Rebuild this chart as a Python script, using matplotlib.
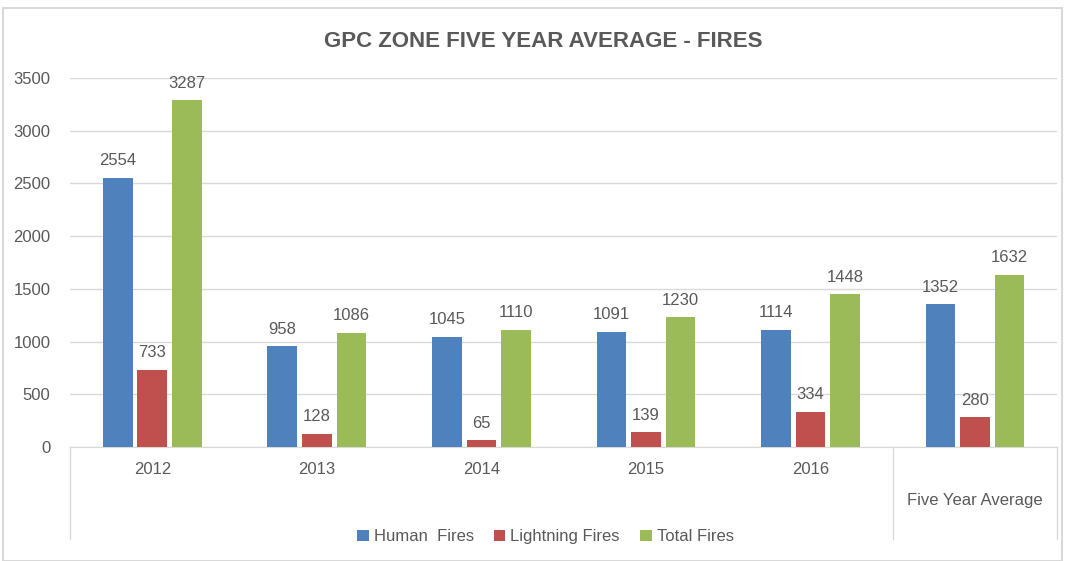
import matplotlib
matplotlib.use("Agg")
import matplotlib.pyplot as plt
import matplotlib.transforms as mtransforms
import numpy as np

plt.rcParams['font.family'] = ['Liberation Sans', 'DejaVu Sans']

categorias = ["2012", "2013", "2014", "2015", "2016", "Five Year Average"]
human = [2554, 958, 1045, 1091, 1114, 1352]
lightning = [733, 128, 65, 139, 334, 280]
total = [3287, 1086, 1110, 1230, 1448, 1632]
series = [("Human  Fires", human, "#4F81BD"),
          ("Lightning Fires", lightning, "#C0504D"),
          ("Total Fires", total, "#9BBB59")]

gris = "#595959"
fig = plt.figure(figsize=(10.69, 5.61), dpi=100)
ax = fig.add_axes([0.0655, 0.2032, 0.9235, 0.6578])

x = np.arange(len(categorias))
ancho = 0.18
offsets = [-0.21, 0.0, 0.21]
for (nombre, vals, color), off in zip(series, offsets):
    bars = ax.bar(x + off, vals, ancho, color=color, label=nombre, zorder=3)
    for b, v in zip(bars, vals):
        ax.text(b.get_x() + b.get_width() / 2, v + 90, str(v), ha="center", va="bottom",
                fontsize=12, color=gris, zorder=4)

ax.set_xlim(-0.5, len(categorias) - 0.5)
ax.set_ylim(0, 3500)
ax.set_yticks(range(0, 3501, 500))
ax.tick_params(axis="y", length=0, labelsize=12, labelcolor=gris, pad=14)
ax.set_xticks([])
ax.grid(axis="y", color="#D9D9D9", linewidth=1, zorder=0)
for s in ["top", "right", "left"]:
    ax.spines[s].set_visible(False)
ax.spines["bottom"].set_color("#D9D9D9")

# etiquetas de categoria en dos niveles
trans = mtransforms.blended_transform_factory(ax.transData, ax.transAxes)
for i, c in enumerate(categorias[:5]):
    ax.text(i, -0.06, c, transform=trans, ha="center", va="center", fontsize=12, color=gris)
ax.text(5, -0.144, categorias[5], transform=trans, ha="center", va="center", fontsize=12, color=gris)
for xs in [-0.5, 4.5, 5.5]:
    ax.plot([xs, xs], [0, -0.25], transform=trans, color="#D9D9D9", lw=1, clip_on=False)

fig.suptitle("GPC ZONE FIVE YEAR AVERAGE - FIRES", x=0.508, y=0.945, fontsize=16,
             fontweight="bold", color=gris)
fig.legend(loc="center", bbox_to_anchor=(0.51, 0.043), ncol=3, frameon=False, fontsize=12,
           labelcolor=gris, handlelength=0.7, handleheight=0.7, handletextpad=0.3, columnspacing=1.2)

fig.patches.append(plt.Rectangle((0.003, 0.0), 0.99, 0.985, transform=fig.transFigure,
                                 fill=False, edgecolor="#D9D9D9", lw=1.5))
fig.savefig("out.png", dpi=100)
